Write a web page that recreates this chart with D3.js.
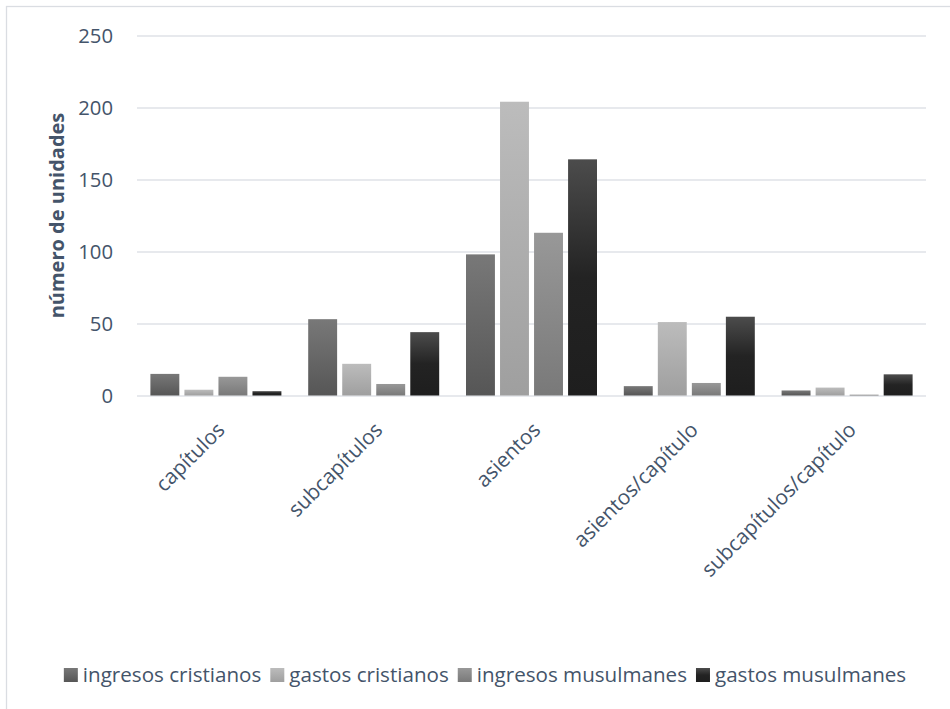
<!DOCTYPE html>
<html>
<head>
<meta charset="utf-8">
<script src="https://cdn.jsdelivr.net/npm/d3@7"></script>
<style>
  html, body { margin: 0; padding: 0; background: #fff; }
  svg { display: block; font-family: "Open Sans", sans-serif; }
</style>
</head>
<body>
<svg id="chart" width="950" height="709"></svg>
<script>
const categories = ["capítulos", "subcapítulos", "asientos", "asientos/capítulo", "subcapítulos/capítulo"];
const seriesNames = ["ingresos cristianos", "gastos cristianos", "ingresos musulmanes", "gastos musulmanes"];
const ingresosCristianos = [15, 53, 98, 6.5, 3.5];
const gastosCristianos = [4, 22, 204, 51, 5.5];
const ingresosMusulmanes = [13, 8, 113, 8.7, 0.6];
const gastosMusulmanes = [3, 44, 164, 54.7, 14.7];
const yTicks = [0, 50, 100, 150, 200, 250];
const yTitle = "número de unidades";

(function () {
const seriesValues = [ingresosCristianos, gastosCristianos, ingresosMusulmanes, gastosMusulmanes];
const gradients = [
  [["0%", "#787878"], ["100%", "#565656"]],
  [["0%", "#bcbcbc"], ["100%", "#9f9f9f"]],
  [["0%", "#989898"], ["100%", "#797979"]],
  [["0%", "#4c4c4c"], ["50%", "#232323"], ["100%", "#1e1e1e"]]
];
const textColor = "#44546a";
const gridColor = "#dfe2e7";

const svg = d3.select("#chart");
const defs = svg.append("defs");
gradients.forEach((stops, i) => {
  const g = defs.append("linearGradient").attr("id", "grad" + i)
    .attr("x1", 0).attr("y1", 0).attr("x2", 0).attr("y2", 1);
  stops.forEach(s => g.append("stop").attr("offset", s[0]).attr("stop-color", s[1]));
});

// chart border
svg.append("rect").attr("x", 6.5).attr("y", 6.5).attr("width", 960).attr("height", 720)
  .attr("fill", "none").attr("stroke", "#dadde2").attr("stroke-width", 1.3);

const pLeft = 137, pRight = 926, pTop = 35.5, pBottom = 395.5;
const y = d3.scaleLinear().domain([0, 250]).range([pBottom, pTop]);
const x0 = d3.scaleBand().domain(categories).range([pLeft, pRight]).paddingInner(0).paddingOuter(0);
const gap = 13.4;
const x1 = d3.scaleBand().domain(d3.range(seriesNames.length)).range([gap, x0.bandwidth() - gap]).paddingInner(0.15);

// y axis with gridlines
const yAxis = svg.append("g").attr("transform", `translate(${pLeft},0)`)
  .call(d3.axisLeft(y).tickValues(yTicks).tickSize(-(pRight - pLeft)).tickPadding(24));
yAxis.select(".domain").remove();
yAxis.selectAll(".tick line").attr("stroke", gridColor).attr("stroke-width", 1.3);
yAxis.selectAll(".tick text").attr("fill", textColor).style("font-size", "20.3px")
  .style("font-family", "'Open Sans', sans-serif");

// bars
const groups = svg.append("g").selectAll("g").data(categories).join("g")
  .attr("transform", d => `translate(${x0(d)},0)`);
groups.selectAll("rect")
  .data((c, ci) => seriesValues.map((vals, si) => ({ si, v: vals[ci] })))
  .join("rect")
  .attr("x", d => x1(d.si))
  .attr("width", x1.bandwidth())
  .attr("y", d => y(d.v))
  .attr("height", d => y(0) - y(d.v))
  .attr("fill", d => `url(#grad${d.si})`);

// category labels
svg.append("g").selectAll("text").data(categories).join("text")
  .attr("transform", d => `translate(${x0(d) + x0.bandwidth() / 2 + 5},426) rotate(-45)`)
  .attr("text-anchor", "end")
  .attr("dy", "0.35em")
  .attr("fill", textColor)
  .style("font-size", "20.8px")
  .text(d => d);

// y title
svg.append("text")
  .attr("transform", `translate(64,${(pTop + pBottom) / 2}) rotate(-90)`)
  .attr("text-anchor", "middle")
  .attr("fill", textColor)
  .style("font-size", "20px")
  .style("font-weight", "bold")
  .text(yTitle);

// legend
const legend = svg.append("g");
const items = legend.selectAll("g").data(seriesNames).join("g");
items.append("rect").attr("width", 14).attr("height", 14).attr("y", -7)
  .attr("fill", (d, i) => `url(#grad${i})`);
items.append("text").attr("x", 19).attr("dy", "0.35em").attr("fill", textColor)
  .style("font-size", "20.6px").text(d => d);
const widths = [];
items.each(function () {
  widths.push(19 + this.querySelector("text").getComputedTextLength());
});
const spacing = 9;
const total = d3.sum(widths) + spacing * (widths.length - 1);
const startX = 485 - total / 2;
items.attr("transform", (d, i) => {
  const tx = startX + d3.sum(widths.slice(0, i)) + spacing * i;
  return `translate(${tx},675)`;
});
})();
</script>
</body>
</html>
